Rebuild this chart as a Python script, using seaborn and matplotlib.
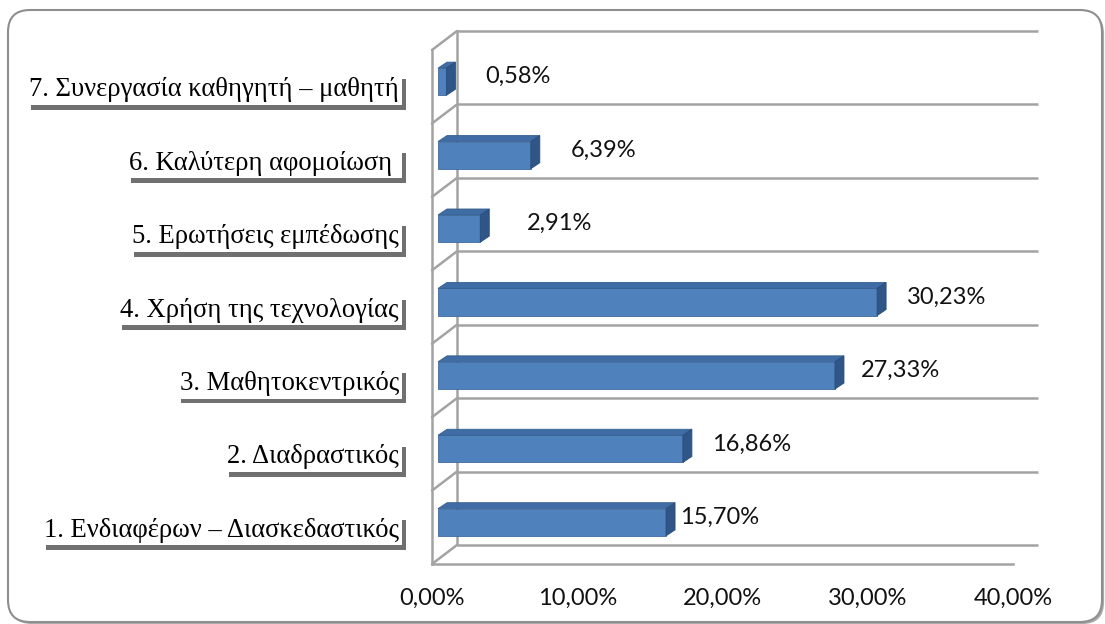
import matplotlib
matplotlib.use("Agg")
import numpy as np
import pandas as pd
import seaborn as sns
import matplotlib.pyplot as plt
from matplotlib import transforms, patheffects
from matplotlib.patches import FancyBboxPatch, Polygon
from matplotlib.lines import Line2D
from matplotlib.ticker import FixedLocator, FuncFormatter

# ---- data -------------------------------------------------------------
categories = [
    "1. Ενδιαφέρων – Διασκεδαστικός",
    "2. Διαδραστικός",
    "3. Μαθητοκεντρικός",
    "4. Χρήση της τεχνολογίας",
    "5. Ερωτήσεις εμπέδωσης",
    "6. Καλύτερη αφομοίωση ",
    "7. Συνεργασία καθηγητή – μαθητή",
]
shares = [15.70, 16.86, 27.33, 30.23, 2.91, 6.39, 0.58]
x_ticks = [0, 10, 20, 30, 40]

# ---- styling ----------------------------------------------------------
W, H, DPI = 1105, 624, 100
FRONT = "#4F81BD"
TOP = "#3F6CA4"
SIDE = "#2F5687"
GRID = "#A3A3A3"
SERIF = ["Liberation Serif", "DejaVu Serif"]
SANS = ["Lato", "DejaVu Sans"]

WALL_DX, WALL_DY = 25, 19      # back wall offset (px)
BAR_DX, BAR_DY = 6, 5          # bar front face inset (px)
DEPTH_DX, DEPTH_DY = 9, 6      # bar depth (px)
label_gap_px = [14, 29, 26, 30, 47, 40, 39]

sns.set_style("white")
plt.rcParams["font.family"] = SANS

fig = plt.figure(figsize=(W / DPI, H / DPI), dpi=DPI)
fig.patch.set_facecolor("white")

# rounded outer frame
frame = FancyBboxPatch((8, 2), 1094, 612,
                       boxstyle="round,pad=0,rounding_size=22",
                       transform=transforms.IdentityTransform(),
                       fc="white", ec="#8E8E8E", lw=1.5, zorder=-1)
frame.set_path_effects([
    patheffects.withSimplePatchShadow(offset=(1.5, -1.5), shadow_rgbFace="0.45", alpha=0.6),
])
fig.add_artist(frame)

ax = fig.add_axes([432 / W, 60 / H, (1013 - 432) / W, (564 - 50) / H])
ax.set_facecolor("none")

df = pd.DataFrame({"category": categories, "share": shares})
order = categories[::-1]
sns.barplot(data=df, x="share", y="category", order=order, orient="h",
            width=0.37, color=FRONT, saturation=1, ax=ax, zorder=3,
            edgecolor="#3E6A9F", linewidth=0.6)

ax.set_xlim(0, 40)
ax.set_ylim(6.5, -0.5)

# spines / axis styling (front plane)
for s in ["top", "right"]:
    ax.spines[s].set_visible(False)
for s in ["left", "bottom"]:
    ax.spines[s].set_color(GRID)
    ax.spines[s].set_linewidth(1.8)
    ax.spines[s].set_zorder(2)

ax.xaxis.set_major_locator(FixedLocator(x_ticks))
ax.xaxis.set_major_formatter(FuncFormatter(lambda v, _: f"{v:.2f}%".replace(".", ",")))
ax.tick_params(axis="x", direction="out", length=6, width=1.5, color=GRID,
               labelsize=17, pad=11, labelcolor="#111111")
ax.set_xlabel("")
ax.set_ylabel("")

boundaries = np.arange(-0.5, 7.0, 1.0)
ax.yaxis.set_major_locator(FixedLocator(range(len(order))))
ax.set_yticklabels([])
ax.yaxis.set_minor_locator(FixedLocator(boundaries))
ax.tick_params(axis="y", which="major", length=0)
ax.tick_params(axis="y", which="minor", direction="out", length=7, width=1.5, color=GRID)

# back wall: gridlines, left wall edge and connecting diagonals
back = transforms.offset_copy(ax.transData, fig=fig, x=WALL_DX, y=WALL_DY, units="dots")
ax.hlines(boundaries, 0, 40, transform=back, color=GRID, lw=1.8, zorder=1, clip_on=False)
ax.vlines(0, -0.5, 6.5, transform=back, color=GRID, lw=1.8, zorder=1, clip_on=False)
ident = transforms.IdentityTransform()
for b in boundaries:
    px, py = ax.transData.transform((0, b))
    ax.add_line(Line2D([px, px + WALL_DX], [py, py + WALL_DY], transform=ident,
                       color=GRID, lw=1.8, zorder=1, clip_on=False))

# bars: shift front faces into depth, add top and side faces
bar_tr = transforms.offset_copy(ax.transData, fig=fig, x=BAR_DX, y=BAR_DY, units="dots")
for p in ax.patches:
    p.set_transform(bar_tr)
    x0, y0, w, h = p.get_x(), p.get_y(), p.get_width(), p.get_height()
    (xl, ya), (xr, yb) = bar_tr.transform([(x0, y0), (x0 + w, y0 + h)])
    yt, ybt = max(ya, yb), min(ya, yb)
    top = Polygon([(xl, yt), (xr, yt), (xr + DEPTH_DX, yt + DEPTH_DY), (xl + DEPTH_DX, yt + DEPTH_DY)],
                  closed=True, transform=ident, fc=TOP, ec="#36608F", lw=0.6, zorder=3, clip_on=False)
    side = Polygon([(xr, ybt), (xr, yt), (xr + DEPTH_DX, yt + DEPTH_DY), (xr + DEPTH_DX, ybt + DEPTH_DY)],
                   closed=True, transform=ident, fc=SIDE, ec="#2A4D7A", lw=0.6, zorder=3, clip_on=False)
    ax.add_patch(top)
    ax.add_patch(side)

# category labels in shadowed white boxes
lab_tr = transforms.offset_copy(ax.transData, fig=fig, x=-33, y=-3, units="dots")
for i, name in enumerate(order):
    t = ax.text(0, i, name, transform=lab_tr, ha="right", va="center",
                fontsize=19.2, family=SERIF, color="#000000", zorder=5,
                bbox=dict(boxstyle="square,pad=0.1", fc="white", ec="none"))
    t.get_bbox_patch().set_path_effects([
        patheffects.withSimplePatchShadow(offset=(3, -3.5), shadow_rgbFace="0.2", alpha=0.7),
        patheffects.Normal(),
    ])

# value labels
val_by_name = dict(zip(categories, shares))
gap_by_name = dict(zip(categories, label_gap_px))
for i, name in enumerate(order):
    v = val_by_name[name]
    ax.annotate(f"{v:.2f}%".replace(".", ","), xy=(v, i),
                xytext=(BAR_DX + gap_by_name[name], BAR_DY + 5), textcoords="offset pixels",
                ha="left", va="center", fontsize=17, color="#111111", zorder=5)

fig.savefig("out.png", dpi=DPI)
